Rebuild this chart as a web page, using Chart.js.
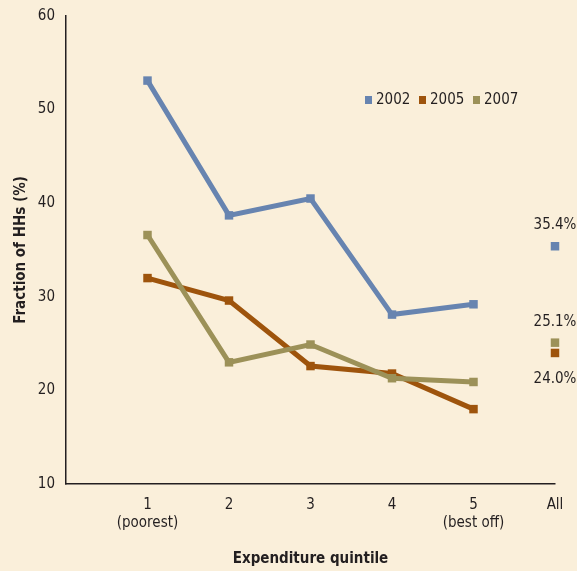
<!DOCTYPE html>
<html>
<head>
<meta charset="utf-8">
<script src="https://cdn.jsdelivr.net/npm/chart.js@4/dist/chart.umd.min.js"></script>
<style>
  html, body { margin: 0; padding: 0; background: #faefda; }
  #wrap { width: 577px; height: 571px; }
</style>
</head>
<body>
<div id="wrap"><canvas id="c" width="577" height="571"></canvas></div>
<script>
// quintile positions and labels
const quintiles = [1, 2, 3, 4, 5];
const allPos = 6;
const xLabels = ['', ['1', '(poorest)'], '2', '3', '4', ['5', '(best off)'], 'All'];
const yTicks = [10, 20, 30, 40, 50, 60];

// series (% of HHs)
const years = ['2002', '2005', '2007'];
const v2002 = [53.1, 38.7, 40.5, 28.1, 29.2];
const v2005 = [32.0, 29.6, 22.6, 21.8, 18.0];
const v2007 = [36.6, 23.0, 24.9, 21.3, 20.9];
const allValues = [35.4, 24.0, 25.1];

const colors = ['#6784b0', '#9e540c', '#9c9158'];
const FONT = "'DejaVu Sans Condensed', 'Liberation Sans Narrow', sans-serif";

const series = [v2002, v2005, v2007];
const lineSets = series.map((vals, i) => ({
  label: years[i],
  data: quintiles.map((q, j) => ({ x: q, y: vals[j] })),
  borderColor: colors[i],
  backgroundColor: colors[i],
  borderWidth: 5,
  pointStyle: 'rect',
  pointRadius: 6,
  pointBorderWidth: 0,
  pointHoverRadius: 6,
  showLine: true,
  clip: false,
  order: i === 0 ? 3 : (i === 1 ? 2 : 1)
}));
const allSets = allValues.map((v, i) => ({
  label: years[i] + ' all',
  data: [{ x: allPos, y: v }],
  borderColor: colors[i],
  backgroundColor: colors[i],
  pointStyle: 'rect',
  pointRadius: 6,
  pointBorderWidth: 0,
  showLine: false,
  clip: false,
  order: i === 2 ? 5 : 4
}));

// legend + "All" value labels
const annotate = {
  id: 'annotate',
  afterDraw(chart) {
    const ctx = chart.ctx;
    const xs = chart.scales.x, ys = chart.scales.y;
    ctx.save();
    ctx.font = '15px ' + FONT;
    ctx.textBaseline = 'middle';
    // legend
    let lx = 365;
    years.forEach((y, i) => {
      ctx.fillStyle = colors[i];
      ctx.fillRect(lx, 96, 7, 8);
      ctx.fillStyle = '#231f20';
      ctx.textAlign = 'left';
      ctx.fillText(y, lx + 11, 100);
      lx += 54;
    });
    // All labels
    ctx.textAlign = 'center';
    const px = xs.getPixelForValue(allPos);
    ctx.fillText(allValues[0].toFixed(1) + '%', px, ys.getPixelForValue(allValues[0]) - 21);
    ctx.fillText(allValues[2].toFixed(1) + '%', px, ys.getPixelForValue(allValues[2]) - 21);
    ctx.fillText(allValues[1].toFixed(1) + '%', px, ys.getPixelForValue(allValues[1]) + 26);
    ctx.restore();
  }
};

new Chart(document.getElementById('c'), {
  type: 'scatter',
  data: { datasets: [...lineSets, ...allSets] },
  options: {
    responsive: false,
    animation: false,
    layout: { padding: { top: 16, right: 22, left: 0, bottom: 0 } },
    plugins: { legend: { display: false }, tooltip: { enabled: false } },
    scales: {
      x: {
        type: 'linear',
        min: 0,
        max: 6,
        afterBuildTicks: s => { s.ticks = xLabels.map((_, i) => ({ value: i })); },
        afterFit: s => { s.height = 87; },
        grid: { display: false, drawTicks: true, tickLength: 6, color: '#231f20', lineWidth: 1.5 },
        border: { display: true, color: '#231f20', width: 1.5 },
        ticks: {
          color: '#231f20',
          font: { family: FONT, size: 15 },
          padding: 6,
          maxRotation: 0,
          autoSkip: false,
          callback: v => xLabels[v]
        },
        title: {
          display: true,
          text: 'Expenditure quintile',
          color: '#231f20',
          font: { family: FONT, size: 15, weight: 'bold' },
          padding: { top: 0, bottom: 3 }
        }
      },
      y: {
        min: 10,
        max: 60,
        afterBuildTicks: s => { s.ticks = yTicks.map(v => ({ value: v })); },
        afterFit: s => { s.width = 66; },
        grid: { display: false, drawTicks: true, tickLength: 7, color: '#231f20', lineWidth: 1.5 },
        border: { display: true, color: '#231f20', width: 1.5 },
        ticks: {
          color: '#231f20',
          font: { family: FONT, size: 15 },
          padding: 4
        },
        title: {
          display: true,
          text: 'Fraction of HHs (%)',
          color: '#231f20',
          font: { family: FONT, size: 15, weight: 'bold' },
          padding: { top: 12, bottom: 6 }
        }
      }
    }
  },
  plugins: [annotate]
});
</script>
</body>
</html>
